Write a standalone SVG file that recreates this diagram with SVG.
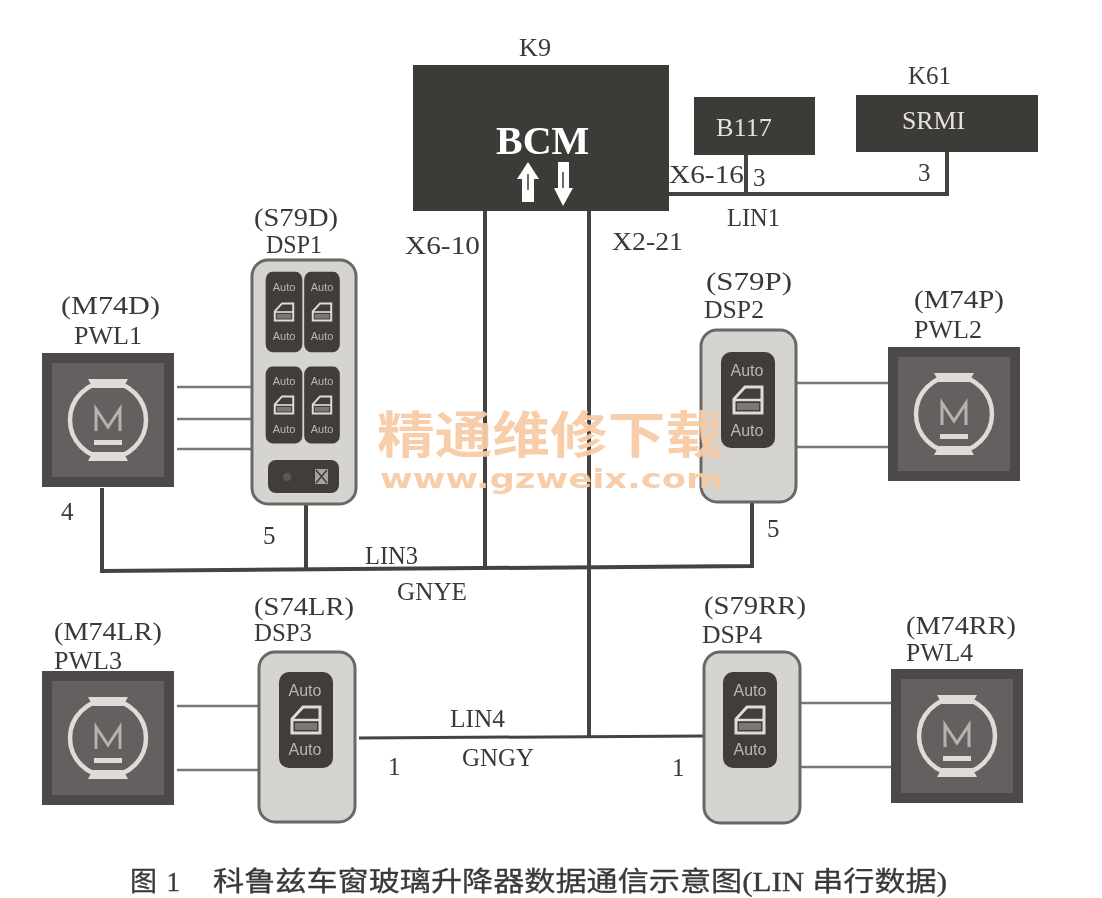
<svg xmlns="http://www.w3.org/2000/svg" xmlns:xlink="http://www.w3.org/1999/xlink" width="1102" height="898" viewBox="0 0 1102 898">
<style>
text{font-family:"Liberation Serif","Noto Sans CJK SC",serif;font-size:25px;fill:#3a3838}
.lt{fill:#e4e2df}
.a{font-family:"Liberation Sans",sans-serif;font-size:16px;fill:#b9b7b4;text-anchor:middle}
.as{font-size:11px}
.wire{fill:none;stroke:#444241;stroke-width:4}
.thin{fill:none;stroke:#7a7775;stroke-width:2.5}
.dark{fill:#3e3a39}
.body{fill:#d6d4d1;stroke:#6a6765;stroke-width:3}
.cap{font-size:27px;fill:#3a3837;stroke:#3a3837;stroke-width:.3}
.wm{font-family:"Noto Sans CJK SC",sans-serif;font-size:50px;font-weight:700;fill:#f7cba6}
.wm2{font-family:"DejaVu Sans",sans-serif;font-size:27px;font-weight:700;fill:#f7cba6}
.soft{filter:url(#soft)}
</style>
<defs>
<filter id="soft" x="-2%" y="-2%" width="104%" height="104%"><feGaussianBlur stdDeviation="0.45"/></filter>
<g id="motor">
<rect x="-66" y="-67" width="132" height="134" fill="#4d4a49"/>
<rect x="-56" y="-57" width="112" height="114" fill="#63605e"/>
<circle r="38" fill="none" stroke="#dedcd9" stroke-width="4.5"/>
<path d="M-20-41H20L15-32H-15ZM-20 41H20L15 32H-15Z" fill="#dedcd9"/>
<path d="M-12 11V-11L0 7 12-11V11" fill="none" stroke="#b5b3b0" stroke-width="3"/>
<rect x="-14" y="20" width="28" height="5" fill="#dedcd9"/>
</g>
<g id="rocker">
<rect x="-27" y="-48" width="54" height="96" rx="10" fill="#403c3b"/>
</g>
<g id="win">
<path d="M-14 13V-1L-3-13H14V13Z" fill="none" stroke="#dedcd9" stroke-width="3"/>
<path d="M-14 0H14" stroke="#dedcd9" stroke-width="2.5"/>
<rect x="-11" y="3" width="22" height="7" fill="#7a7775"/>
</g>
</defs>
<rect width="1102" height="898" fill="#fff"/>

<g id="connectors" class="soft">
<path class="wire" d="M669 194H947V152M746 155V194"/>
<path class="wire" d="M485 211V568M589 211V737"/>
<path class="wire" d="M102 488V571L752 566V503M306 505V570"/>
<path class="wire" style="stroke-width:3" d="M359 738L705 736"/>
<path class="thin" d="M177 387H252M177 419H252M177 449H252"/>
<path class="thin" d="M796 383H888M796 447H888"/>
<path class="thin" d="M177 706H259M177 770H259"/>
<path class="thin" d="M800 703H891M800 767H891"/>
</g>

<g id="K9" class="soft">
<rect class="dark" x="413" y="65" width="256" height="146"/>
<text x="519" y="56" textLength="32" lengthAdjust="spacingAndGlyphs">K9</text>
<text x="496" y="154" style="font-size:40px;font-weight:700;fill:#fff">BCM</text>
<path d="M528 162L539 179H534V202H522V179H517Z" fill="#fff"/>
<path d="M558 162H569V188H573L563 206 554 188H558Z" fill="#fff"/>
<path d="M528 174V190M563 172V188" stroke="#3e3a39" stroke-width="1.5"/>
</g>
<g id="B117" class="soft">
<rect class="dark" x="694" y="97" width="121" height="58"/>
<text x="716" y="136" class="lt" textLength="56" lengthAdjust="spacingAndGlyphs">B117</text>
</g>
<g id="K61" class="soft">
<rect class="dark" x="856" y="95" width="182" height="57"/>
<text x="908" y="84" textLength="43" lengthAdjust="spacingAndGlyphs">K61</text>
<text x="902" y="129" class="lt" textLength="63" lengthAdjust="spacingAndGlyphs">SRMI</text>
</g>

<g id="M74D" class="soft">
<use xlink:href="#motor" href="#motor" x="108" y="420"/>
<text x="61" y="314" textLength="99" lengthAdjust="spacingAndGlyphs">(M74D)</text>
<text x="74" y="344" textLength="68" lengthAdjust="spacingAndGlyphs">PWL1</text>
</g>
<g id="M74P" class="soft">
<use xlink:href="#motor" href="#motor" x="954" y="414"/>
<text x="914" y="308" textLength="90" lengthAdjust="spacingAndGlyphs">(M74P)</text>
<text x="914" y="338" textLength="68" lengthAdjust="spacingAndGlyphs">PWL2</text>
</g>
<g id="M74LR" class="soft">
<use xlink:href="#motor" href="#motor" x="108" y="738"/>
<text x="54" y="640" textLength="108" lengthAdjust="spacingAndGlyphs">(M74LR)</text>
<text x="54" y="669" textLength="68" lengthAdjust="spacingAndGlyphs">PWL3</text>
</g>
<g id="M74RR" class="soft">
<use xlink:href="#motor" href="#motor" x="957" y="736"/>
<text x="906" y="634" textLength="110" lengthAdjust="spacingAndGlyphs">(M74RR)</text>
<text x="906" y="661" textLength="67" lengthAdjust="spacingAndGlyphs">PWL4</text>
</g>

<g id="S79D" class="soft">
<rect class="body" x="252" y="260" width="104" height="244" rx="16"/>
<use href="#rocker" transform="translate(284 312) scale(.68 .84)"/>
<use href="#rocker" transform="translate(322 312) scale(.66 .84)"/>
<use href="#rocker" transform="translate(284 405) scale(.68 .8)"/>
<use href="#rocker" transform="translate(322 405) scale(.66 .8)"/>
<use href="#win" transform="translate(284 312) scale(.66)"/>
<use href="#win" transform="translate(322 312) scale(.66)"/>
<use href="#win" transform="translate(284 405) scale(.66)"/>
<use href="#win" transform="translate(322 405) scale(.66)"/>
<text class="a as" x="284" y="291">Auto</text><text class="a as" x="322" y="291">Auto</text>
<text class="a as" x="284" y="340">Auto</text><text class="a as" x="322" y="340">Auto</text>
<text class="a as" x="284" y="385">Auto</text><text class="a as" x="322" y="385">Auto</text>
<text class="a as" x="284" y="433">Auto</text><text class="a as" x="322" y="433">Auto</text>
<rect x="268" y="460" width="71" height="33" rx="8" fill="#403c3b"/>
<circle cx="287" cy="477" r="4" fill="#5c5957"/>
<rect x="315" y="469" width="13" height="15" fill="#a5a3a0"/>
<path d="M316 470L327 483M327 470L316 483" stroke="#403c3b" stroke-width="1.5"/>
<text x="254" y="226" textLength="84" lengthAdjust="spacingAndGlyphs">(S79D)</text>
<text x="266" y="253" textLength="56" lengthAdjust="spacingAndGlyphs">DSP1</text>
</g>

<g id="S79P" class="soft">
<rect class="body" x="701" y="330" width="95" height="172" rx="16"/>
<use href="#rocker" x="748" y="400"/>
<use href="#win" x="748" y="400"/>
<text class="a" x="747" y="376">Auto</text>
<text class="a" x="747" y="436">Auto</text>
<text x="706" y="290" textLength="86" lengthAdjust="spacingAndGlyphs">(S79P)</text>
<text x="704" y="318" textLength="60" lengthAdjust="spacingAndGlyphs">DSP2</text>
</g>

<g id="S74LR" class="soft">
<rect class="body" x="259" y="652" width="96" height="170" rx="16"/>
<use href="#rocker" x="306" y="720"/>
<use href="#win" x="306" y="720"/>
<text class="a" x="305" y="696">Auto</text>
<text class="a" x="305" y="755">Auto</text>
<text x="254" y="615" textLength="100" lengthAdjust="spacingAndGlyphs">(S74LR)</text>
<text x="254" y="641" textLength="58" lengthAdjust="spacingAndGlyphs">DSP3</text>
</g>

<g id="S79RR" class="soft">
<rect class="body" x="704" y="652" width="96" height="171" rx="16"/>
<use href="#rocker" x="750" y="720"/>
<use href="#win" x="750" y="720"/>
<text class="a" x="750" y="696">Auto</text>
<text class="a" x="750" y="755">Auto</text>
<text x="704" y="614" textLength="102" lengthAdjust="spacingAndGlyphs">(S79RR)</text>
<text x="702" y="643" textLength="60" lengthAdjust="spacingAndGlyphs">DSP4</text>
</g>

<g id="labels" class="soft">
<text x="669" y="183" textLength="75" lengthAdjust="spacingAndGlyphs">X6-16</text>
<text x="753" y="186">3</text>
<text x="918" y="181">3</text>
<text x="727" y="226" textLength="53" lengthAdjust="spacingAndGlyphs">LIN1</text>
<text x="405" y="254" textLength="75" lengthAdjust="spacingAndGlyphs">X6-10</text>
<text x="612" y="250" textLength="71" lengthAdjust="spacingAndGlyphs">X2-21</text>
<text x="61" y="520">4</text>
<text x="263" y="544">5</text>
<text x="767" y="537">5</text>
<text x="365" y="564" textLength="53" lengthAdjust="spacingAndGlyphs">LIN3</text>
<text x="397" y="600" textLength="70" lengthAdjust="spacingAndGlyphs">GNYE</text>
<text x="450" y="727" textLength="55" lengthAdjust="spacingAndGlyphs">LIN4</text>
<text x="462" y="766" textLength="72" lengthAdjust="spacingAndGlyphs">GNGY</text>
<text x="388" y="775">1</text>
<text x="672" y="776">1</text>
<text class="cap" x="130" y="891" textLength="50" lengthAdjust="spacing">图 1</text>
<text class="cap" x="213" y="891" textLength="734" lengthAdjust="spacingAndGlyphs">科鲁兹车窗玻璃升降器数据通信示意图(LIN 串行数据)</text>
</g>

<g id="watermark" opacity=".95">
<text class="wm" x="377" y="453" textLength="346" lengthAdjust="spacingAndGlyphs">精通维修下载</text>
<text class="wm2" x="380" y="488" textLength="343" lengthAdjust="spacingAndGlyphs">www.gzweix.com</text>
</g>
</svg>
